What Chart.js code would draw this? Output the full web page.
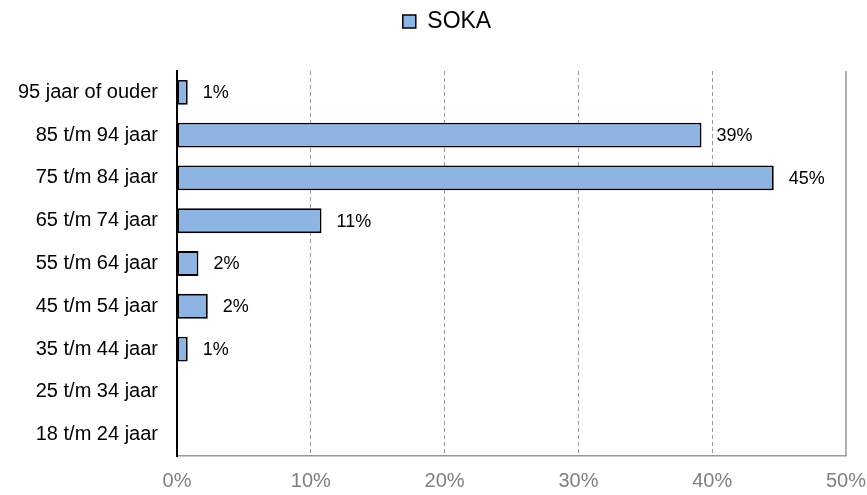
<!DOCTYPE html>
<html>
<head>
<meta charset="utf-8">
<script src="https://cdn.jsdelivr.net/npm/chart.js@4/dist/chart.umd.min.js"></script>
<style>
  html, body { margin: 0; padding: 0; background: #fff; }
  #wrap { width: 867px; height: 495px; }
</style>
</head>
<body>
<div id="wrap"><canvas id="ageChart"></canvas></div>
<script>
// Data ---------------------------------------------------------------------
const categories = [
  '95 jaar of ouder', '85 t/m 94 jaar', '75 t/m 84 jaar', '65 t/m 74 jaar',
  '55 t/m 64 jaar', '45 t/m 54 jaar', '35 t/m 44 jaar', '25 t/m 34 jaar',
  '18 t/m 24 jaar'
];
const sokaValues = [0.8, 39.2, 44.6, 10.8, 1.6, 2.3, 0.8, 0, 0];
const xTicks = [0, 10, 20, 30, 40, 50];

const FONT = 'Arial, "Liberation Sans", sans-serif';

// Legend: extra room below it, nudged right to sit where the original has it
const legendTweak = {
  id: 'legendTweak',
  beforeInit(chart) {
    const fit = chart.legend.fit;
    chart.legend.fit = function () {
      fit.bind(chart.legend)();
      this.height += 28;
    };
  },
  afterLayout(chart) {
    chart.legend.left += 20;
    chart.legend.right += 20;
  }
};

// Solid line at the far right (50%)
const rightLine = {
  id: 'rightLine',
  beforeDatasetsDraw(chart) {
    const { ctx, chartArea, scales } = chart;
    const x = scales.x.getPixelForValue(xTicks[xTicks.length - 1]);
    ctx.save();
    ctx.strokeStyle = '#999999';
    ctx.lineWidth = 1.5;
    ctx.beginPath();
    ctx.moveTo(x, chartArea.top);
    ctx.lineTo(x, chartArea.bottom);
    ctx.stroke();
    ctx.restore();
  }
};

// Percent labels next to the bars
const barLabels = {
  id: 'barLabels',
  afterDatasetsDraw(chart) {
    const { ctx } = chart;
    const meta = chart.getDatasetMeta(0);
    ctx.save();
    ctx.font = '18px ' + FONT;
    ctx.fillStyle = '#000';
    ctx.textAlign = 'left';
    ctx.textBaseline = 'middle';
    meta.data.forEach((bar, i) => {
      const v = sokaValues[i];
      if (!v) return;
      ctx.fillText(Math.round(v) + '%', bar.x + 15, bar.y + 1);
    });
    ctx.restore();
  }
};

const ctx = document.getElementById('ageChart').getContext('2d');
new Chart(ctx, {
  type: 'bar',
  data: {
    labels: categories,
    datasets: [{
      label: 'SOKA',
      data: sokaValues,
      backgroundColor: '#8EB4E3',
      borderColor: '#000000',
      borderWidth: 1.8,
      borderSkipped: false,
      barPercentage: 0.58,
      categoryPercentage: 1
    }]
  },
  options: {
    indexAxis: 'y',
    responsive: true,
    maintainAspectRatio: false,
    animation: false,
    layout: { padding: { left: 8, right: 21, top: 6, bottom: 0 } },
    plugins: {
      tooltip: { enabled: false },
      legend: {
        position: 'top',
        labels: {
          boxWidth: 13,
          boxHeight: 13,
          padding: 4,
          color: '#000',
          font: { family: FONT, size: 23 },
          generateLabels: () => [{
            text: 'SOKA',
            fillStyle: '#8EB4E3',
            strokeStyle: '#000',
            lineWidth: 1.5,
            datasetIndex: 0
          }]
        }
      }
    },
    scales: {
      x: {
        min: 0,
        max: 50,
        afterBuildTicks: (scale) => { scale.ticks = xTicks.map(v => ({ value: v })); },
        afterFit: (scale) => {
          scale.height = 39;
          scale.paddingRight = 0;
        },
        grid: {
          drawTicks: false,
          color: (c) => (c.tick && (c.tick.value === 0 || c.tick.value === 50)) ? 'rgba(0,0,0,0)' : '#999999',
          lineWidth: 1
        },
        border: { display: true, color: '#999999', width: 1.5, dash: [4, 3] },
        ticks: {
          padding: 13,
          color: '#808080',
          font: { family: FONT, size: 20 },
          callback: (v) => v + '%'
        }
      },
      y: {
        afterFit: (scale) => { scale.width = 169; },
        grid: { drawOnChartArea: false, drawTicks: false },
        border: { display: true, color: '#000000', width: 2 },
        ticks: {
          padding: 19,
          color: '#000',
          font: { family: FONT, size: 20 }
        }
      }
    }
  },
  plugins: [legendTweak, rightLine, barLabels]
});
</script>
</body>
</html>
